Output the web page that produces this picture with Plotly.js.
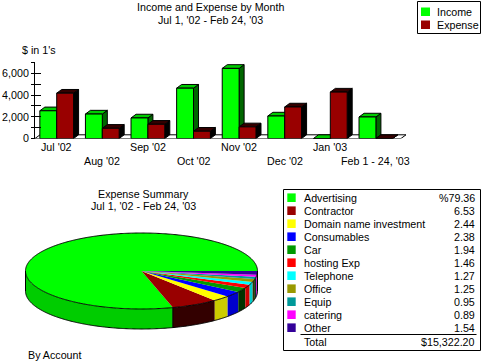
<!DOCTYPE html>
<html><head><meta charset="utf-8">
<script src="https://cdn.plot.ly/plotly-3.0.1.min.js"></script>
<style>html,body{margin:0;padding:0;background:#fff;}#chart{width:485px;height:363px;}</style>
</head><body><div id="chart"></div>
<script>
// ---------- data ----------
const months = ["Jul '02","Aug '02","Sep '02","Oct '02","Nov '02","Dec '02","Jan '03","Feb 1 - 24, '03"];
const income = [2550, 2250, 1890, 4630, 6450, 2070, 0, 1980];
const expense = [4170, 940, 1310, 670, 1070, 2900, 4270, 0];
const seriesNames = ["Income", "Expense"];
const yTickVals = [0, 1000, 2000, 3000, 4000, 5000, 6000, 7000];
const yTickText = ["0", "", "2,000", "", "4,000", "", "6,000", ""];
const accounts = ["Advertising","Contractor","Domain name investment","Consumables","Car","hosting Exp","Telephone","Office","Equip","catering","Other"];
const shares = [79.36, 6.53, 2.44, 2.38, 1.94, 1.46, 1.27, 1.25, 0.95, 0.89, 1.54];
const shareLabels = ["%79.36","6.53","2.44","2.38","1.94","1.46","1.27","1.25","0.95","0.89","1.54"];
const totalLabel = "$15,322.20";

// ---------- styles ----------
const FONT = "'Liberation Sans', Arial, sans-serif";
const FS = 10.7;
const barCol = {front: ["#00ff00", "#990000"], top: ["#00cc00", "#330000"], side: ["#006600", "#000000"]};
const sliceTop = ["#00ff00","#990000","#ffff00","#0000ff","#009900","#ff0000","#00ffff","#999900","#009999","#ff00ff","#330099"];
const sliceSide = ["#00cc00","#330000","#cccc00","#0000cc","#003300","#cc0000","#00cccc","#333300","#003333","#cc00cc","#110033"];

const W = 485, H = 363;
const BW = 0.37, DX = 0.11, DY = 340;
const shapes = [], annotations = [];

function poly(pts){ return 'M' + pts.map(p => p[0].toFixed(3) + ',' + p[1].toFixed(3)).join(' L') + ' Z'; }
function txt(x, y, t, opt){ annotations.push(Object.assign({xref:'x2', yref:'y2', x:x, y:y, text:t, showarrow:false,
  font:{family:FONT, size:FS, color:'#000'}, xanchor:'center', yanchor:'middle'}, opt||{})); }

// floor
const fx0 = -0.476, fx1 = 7.55;
shapes.push({type:'path', xref:'x', yref:'y', layer:'below', path: poly([[fx0,0],[fx1,0],[fx1+DX,DY],[fx0+DX,DY]]),
  fillcolor:'#ffffff', line:{color:'#000', width:1}});

// 3D bar faces
const series = [income, expense];
months.forEach((m, i) => {
  series.forEach((vals, s) => {
    const v = vals[i];
    const x0 = i + (s === 0 ? -BW : 0), x1 = x0 + BW;
    shapes.push({type:'path', xref:'x', yref:'y', layer:'below', path: poly([[x1,0],[x1,v],[x1+DX,v+DY],[x1+DX,DY]]),
      fillcolor: barCol.side[s], line:{color:'#000', width:1}});
    shapes.push({type:'path', xref:'x', yref:'y', layer:'below', path: poly([[x0,v],[x1,v],[x1+DX,v+DY],[x0+DX,v+DY]]),
      fillcolor: barCol.top[s], line:{color:'#000', width:1}});
  });
  annotations.push({xref:'x', yref:'y2', x:i, y:(i % 2 === 0 ? 147 : 161), text:m, showarrow:false,
    font:{family:FONT, size:FS, color:'#000'}, xanchor:'center', yanchor:'middle'});
});

// titles
txt(210.5, 7, "Income and Expense by Month");
txt(210.5, 20, "Jul 1, '02 - Feb 24, '03");
txt(20, 50, "$ in 1's", {xanchor:'left'});

// series legend box
shapes.push({type:'rect', xref:'x2', yref:'y2', x0:417.5, y0:1.5, x1:480.5, y1:33.5, line:{color:'#000', width:1}, fillcolor:'#fff'});
seriesNames.forEach((n, s) => {
  const yc = 12 + s * 13;
  shapes.push({type:'rect', xref:'x2', yref:'y2', x0:421, y0:yc-4.5, x1:430, y1:yc+4, line:{width:0}, fillcolor:barCol.front[s]});
  txt(434.5, yc, n, {xanchor:'left'});
});

// ---------- 3D pie ----------
const cx = 141.5, cy = 271, rx = 116, ry = 38, th = 20;
const P = (a, dy) => [cx + rx * Math.cos(a), cy - ry * Math.sin(a) + (dy || 0)];
const total = shares.reduce((a, b) => a + b, 0);
let cum = 0;
const bounds = shares.map(v => { const a1 = cum / total * 2 * Math.PI; cum += v; return [a1, cum / total * 2 * Math.PI]; });
function arc(a1, a2, dy){ const n = Math.max(2, Math.ceil((a2 - a1) / 0.01)); const pts = [];
  for (let k = 0; k <= n; k++) pts.push(P(a1 + (a2 - a1) * k / n, dy)); return pts; }
// side faces (front half only)
bounds.forEach((b, k) => {
  const a1 = Math.max(b[0], Math.PI), a2 = Math.min(b[1], 2 * Math.PI);
  if (a2 <= a1) return;
  const pts = arc(a1, a2, 0).concat(arc(a1, a2, th).reverse());
  shapes.push({type:'path', xref:'x2', yref:'y2', path: poly(pts), fillcolor: sliceSide[k], line:{width:0}});
});
// top faces
bounds.forEach((b, k) => {
  const pts = [[cx, cy]].concat(arc(b[0], b[1], 0));
  shapes.push({type:'path', xref:'x2', yref:'y2', path: poly(pts), fillcolor: sliceTop[k], line:{width:0}});
});
// outlines
shapes.push({type:'path', xref:'x2', yref:'y2', path: 'M' + arc(0, 2*Math.PI, 0).map(p => p[0].toFixed(2)+','+p[1].toFixed(2)).join(' L'), line:{color:'#000', width:1}});
shapes.push({type:'path', xref:'x2', yref:'y2', path: 'M' + arc(Math.PI, 2*Math.PI, th).map(p => p[0].toFixed(2)+','+p[1].toFixed(2)).join(' L'), line:{color:'#000', width:1}});
[Math.PI, 2 * Math.PI, bounds[0][1]].forEach(a => {
  const p = P(a, 0);
  shapes.push({type:'line', xref:'x2', yref:'y2', x0:p[0], y0:p[1], x1:p[0], y1:p[1] + th, line:{color:'#000', width:1}});
});

txt(143, 193.5, "Expense Summary");
txt(143, 206, "Jul 1, '02 - Feb 24, '03");
txt(26, 355, "By Account", {xanchor:'left'});

// account table
shapes.push({type:'rect', xref:'x2', yref:'y2', x0:283.5, y0:189.5, x1:480.5, y1:350.5, line:{color:'#000', width:1}, fillcolor:'rgba(0,0,0,0)'});
accounts.forEach((a, k) => {
  const yc = 197.7 + 13 * k;
  shapes.push({type:'rect', xref:'x2', yref:'y2', x0:287.3, y0:yc-4.3, x1:295.7, y1:yc+4.3, line:{width:0}, fillcolor:sliceTop[k]});
  txt(301.5, yc, a, {xanchor:'left'});
  txt(476.5, yc, shareLabels[k], {xanchor:'right'});
});
shapes.push({type:'line', xref:'x2', yref:'y2', x0:300.5, y0:334.5, x1:476.5, y1:334.5, line:{color:'#000', width:1}});
txt(301.5, 341.7, "Total", {xanchor:'left'});
txt(476.5, 341.7, totalLabel, {xanchor:'right'});

// ---------- traces ----------
const traces = series.map((vals, s) => ({
  type:'bar', x: months.map((_, i) => i), y: vals, name: seriesNames[s],
  offset: s === 0 ? -BW : 0, width: BW, xaxis:'x', yaxis:'y',
  marker:{color: barCol.front[s], line:{color:'#000', width:1}}, hoverinfo:'skip', cliponaxis:false
}));
traces.push({type:'scatter', x:[0], y:[0], xaxis:'x', yaxis:'y3', mode:'none', hoverinfo:'skip', showlegend:false});
traces.push({type:'scatter', x:[0], y:[0], xaxis:'x2', yaxis:'y2', mode:'none', hoverinfo:'skip', showlegend:false});

const layout = {
  width: W, height: H, margin:{l:0, r:0, t:0, b:0, pad:0},
  paper_bgcolor:'#ffffff', plot_bgcolor:'rgba(0,0,0,0)', showlegend:false,
  barmode:'overlay', font:{family:FONT, size:FS, color:'#000'},
  xaxis:{domain:[35/W, 420/W], range:[-0.476, 7.967], visible:false, fixedrange:true},
  yaxis:{domain:[1 - 138.5/H, 1 - 62.4/H], range:[0, 7000], anchor:'x', showline:true, linecolor:'#000', linewidth:1,
    ticks:'outside', ticklen:3, tickcolor:'#000', tickvals:yTickVals, ticktext:yTickText, showgrid:false, zeroline:false,
    tickfont:{family:FONT, size:FS, color:'#000'}, fixedrange:true},
  yaxis3:{overlaying:'y', anchor:'x', side:'left', range:[0, 7000], ticks:'inside', ticklen:6, tickcolor:'#000',
    tickvals:yTickVals, showticklabels:false, showline:false, showgrid:false, zeroline:false, fixedrange:true},
  xaxis2:{domain:[0,1], range:[0, W], visible:false, anchor:'y2', fixedrange:true},
  yaxis2:{domain:[0,1], range:[H, 0], visible:false, anchor:'x2', fixedrange:true},
  shapes: shapes, annotations: annotations
};
Plotly.newPlot('chart', traces, layout, {staticPlot:true, displayModeBar:false});
</script>
</body></html>
